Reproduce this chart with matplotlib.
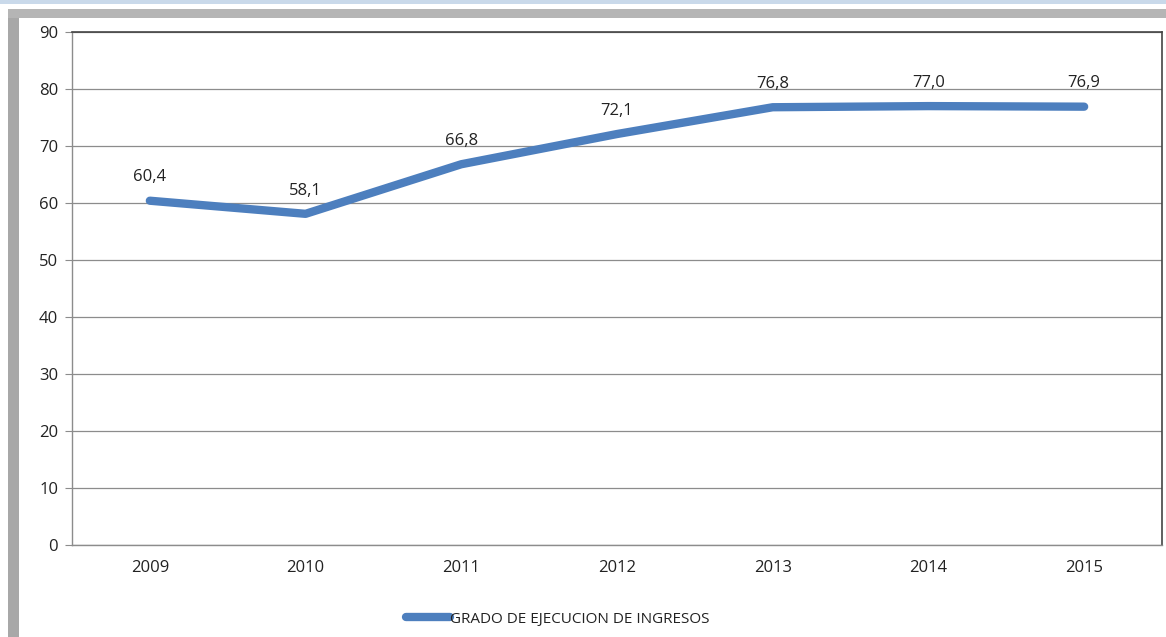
import matplotlib
matplotlib.use("Agg")
import matplotlib.pyplot as plt
from matplotlib.patches import Rectangle

years = ["2009", "2010", "2011", "2012", "2013", "2014", "2015"]
values = [60.4, 58.1, 66.8, 72.1, 76.8, 77.0, 76.9]
value_labels = ["60,4", "58,1", "66,8", "72,1", "76,8", "77,0", "76,9"]
yticks = [0, 10, 20, 30, 40, 50, 60, 70, 80, 90]
series_name = "GRADO DE EJECUCION DE INGRESOS"

plt.rcParams['font.family'] = ['Open Sans', 'DejaVu Sans']

fig = plt.figure(figsize=(11.66, 6.37), dpi=100)
fig.patch.set_facecolor("white")

# decorative frame: light blue top strip and gray shadows
fig.patches.append(Rectangle((0, 1 - 4/637), 1, 4/637, transform=fig.transFigure,
                             facecolor="#c9d9ea", edgecolor="none", zorder=0))
fig.patches.append(Rectangle((8/1166, 0), 11/1166, 1 - 9/637, transform=fig.transFigure,
                             facecolor="#a8a8a8", edgecolor="none", zorder=0))
fig.patches.append(Rectangle((8/1166, 1 - 18/637), 1 - 8/1166, 9/637, transform=fig.transFigure,
                             facecolor="#b5b5b5", edgecolor="none", zorder=0))

ax = fig.add_axes([72/1166, 1 - 545/637, (1162 - 72)/1166, (545 - 32)/637])
x = list(range(len(years)))
ax.plot(x, values, color="#4d7fbe", linewidth=6, solid_capstyle="round",
        solid_joinstyle="round", label=series_name, zorder=3)
for xi, v, lab in zip(x, values, value_labels):
    ax.annotate(lab, (xi, v), xytext=(0, 11), textcoords="offset points",
                ha="center", va="bottom", fontsize=12, color="#222222")

ax.set_xlim(-0.5, len(years) - 0.5)
ax.set_ylim(0, 90)
ax.set_yticks(yticks)
ax.set_xticks(x)
ax.set_xticklabels(years)
ax.yaxis.grid(True, color="#8c8c8c", linewidth=0.9)
ax.set_axisbelow(True)
ax.tick_params(axis="y", length=5, color="#8c8c8c", labelsize=12, labelcolor="#222222", pad=5)
ax.tick_params(axis="x", length=0, labelsize=12, labelcolor="#222222", pad=11)
for s in ["top", "right"]:
    ax.spines[s].set_color("#444444")
    ax.spines[s].set_linewidth(1.2)
for s in ["left", "bottom"]:
    ax.spines[s].set_color("#8c8c8c")
    ax.spines[s].set_linewidth(1.0)

leg = fig.legend(loc="center", bbox_to_anchor=(558/1166, 1 - 619/637), frameon=False,
                 fontsize=11, handlelength=2.9, handletextpad=0.0)
for t in leg.get_texts():
    t.set_color("#222222")

fig.savefig("out.png", dpi=100)
